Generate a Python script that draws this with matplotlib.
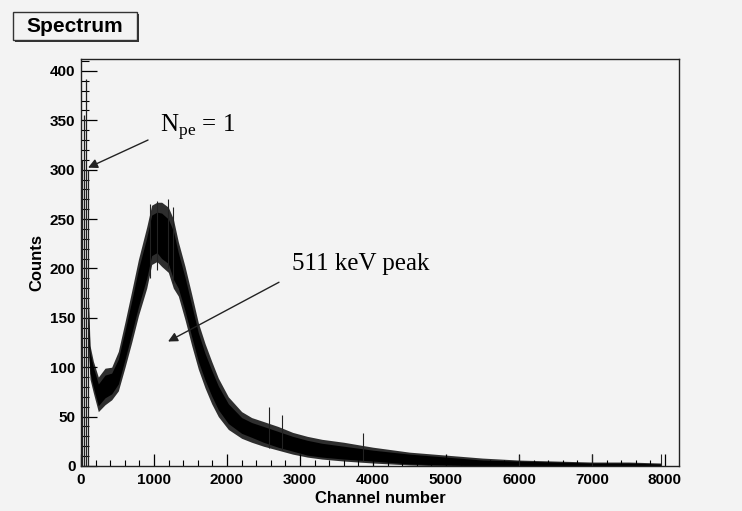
import numpy as np
import matplotlib.pyplot as plt
from matplotlib.patches import Rectangle

plt.rcParams['mathtext.fontset'] = 'custom'
plt.rcParams['mathtext.rm'] = 'Liberation Serif'

# Spectrum band (channel, outer/inner envelope of the noisy histogram)
channel = [105, 123, 169, 237, 329, 420, 511, 603, 694, 786,
           900, 968, 1040, 1105, 1196, 1265, 1333, 1425, 1516, 1607,
           1699, 1790, 1881, 2018, 2201, 2338, 2500, 2700, 2900, 3100,
           3300, 3600, 4000, 4500, 5000, 5500, 6000, 6500, 7000, 7500, 7950]
outer_hi = [168, 122, 106, 90, 99, 100, 116, 146, 177, 209,
            242, 264, 267, 267, 262, 250, 227, 202, 174, 145,
            124, 106, 89, 70, 55, 49, 45, 40, 34, 30,
            27, 24, 19, 14, 11, 8, 6, 5, 4, 4, 3]
outer_lo = [112, 88, 74, 55, 62, 67, 76, 100, 125, 152,
            180, 204, 207, 202, 196, 180, 172, 148, 122, 98,
            79, 63, 50, 37, 28, 24, 20, 16, 12, 9,
            7, 5, 3, 1, 0, 0, 0, 0, 0, 0, 0]
core_hi = [160, 115, 100, 83, 92, 94, 108, 137, 167, 199,
           231, 254, 257, 256, 250, 238, 216, 191, 163, 135,
           114, 97, 81, 63, 49, 44, 40, 35, 30, 26,
           23, 20, 16, 12, 9, 6, 5, 4, 3, 3, 2]
core_lo = [120, 94, 80, 61, 69, 73, 83, 108, 134, 161,
           190, 213, 216, 210, 205, 189, 180, 157, 131, 106,
           87, 71, 57, 43, 33, 29, 24, 19, 15, 11,
           9, 7, 5, 2, 1, 0, 0, 0, 0, 0, 0]

# single photoelectron spike at the start
spe_ch = [15, 40, 65, 90]
spe_top = [310, 355, 392, 300]

# isolated noise spikes
spike_ch = [940, 1040, 1190, 1265, 2580, 2760, 3870, 6000, 7000, 7950]
spike_top = [265, 268, 270, 262, 60, 52, 33, 11, 12, 12]
spike_lo = [190, 198, 200, 185, 18, 16, 5, 0, 0, 0]

bg = '#f3f3f3'
fig = plt.figure(figsize=(7.42, 5.11), dpi=100, facecolor=bg)
ax = fig.add_axes([0.1092, 0.0881, 0.8058, 0.7964], facecolor=bg)

ax.fill_between(channel, outer_lo, outer_hi, color='#2e2e2e', linewidth=0)
ax.fill_between(channel, core_lo, core_hi, color='black', linewidth=0)
ax.vlines(spe_ch, 0, spe_top, color='#222222', linewidth=0.9)
ax.vlines(spike_ch, spike_lo, spike_top, color='#222222', linewidth=0.8)

ax.set_xlim(0, 8192)
ax.set_ylim(0, 412)

ax.set_xticks(np.arange(0, 8001, 1000))
ax.set_xticks(np.arange(0, 8192, 200), minor=True)
ax.set_yticks(np.arange(0, 401, 50))
ax.set_yticks(np.arange(0, 412, 10), minor=True)

tick_font = dict(family='Liberation Sans', weight='bold', size=11)
ax.set_xticklabels([str(v) for v in range(0, 8001, 1000)], fontdict=tick_font)
ax.set_yticklabels([str(v) for v in range(0, 401, 50)], fontdict=tick_font)
ax.tick_params(axis='y', which='major', direction='in', length=11.5, width=0.9, pad=4)
ax.tick_params(axis='y', which='minor', direction='in', length=5.8, width=0.8)
ax.tick_params(axis='x', which='major', direction='in', length=8.6, width=0.9, pad=5)
ax.tick_params(axis='x', which='minor', direction='in', length=4.3, width=0.8)
for s in ax.spines.values():
    s.set_linewidth(1.0)
    s.set_color('#222222')

ax.set_xlabel('Channel number', family='Liberation Sans', weight='bold', size=12, labelpad=3)
ax.set_ylabel('Counts', family='Liberation Sans', weight='bold', size=12, labelpad=4)

# annotations
arrow = dict(arrowstyle='-|>', color='#222222', lw=1.0, mutation_scale=14, shrinkA=0, shrinkB=0)
ax.annotate('', xy=(96, 302), xytext=(918, 330), arrowprops=arrow)
ax.annotate('', xy=(1192, 126), xytext=(2712, 186), arrowprops=arrow)
ax.text(1082, 338, r'N$_{\mathrm{pe}}$ = 1', family='Liberation Serif', size=18,
        ha='left', va='baseline')
ax.text(2890, 198, '511 keV peak', family='Liberation Serif', size=18,
        ha='left', va='baseline')

# ROOT-style title box with shadow
fig.patches.append(Rectangle((15 / 742, 1 - 42 / 511), 124 / 742, 28 / 511,
                             transform=fig.transFigure, facecolor='#333333',
                             edgecolor='none'))
fig.patches.append(Rectangle((13 / 742, 1 - 40 / 511), 124 / 742, 28 / 511,
                             transform=fig.transFigure, facecolor=bg,
                             edgecolor='#333333', linewidth=1))
fig.text(75 / 742, 1 - 26 / 511, 'Spectrum', family='Liberation Sans', weight='bold',
         size=15, ha='center', va='center')

fig.savefig('out.png', dpi=100, facecolor=bg)
